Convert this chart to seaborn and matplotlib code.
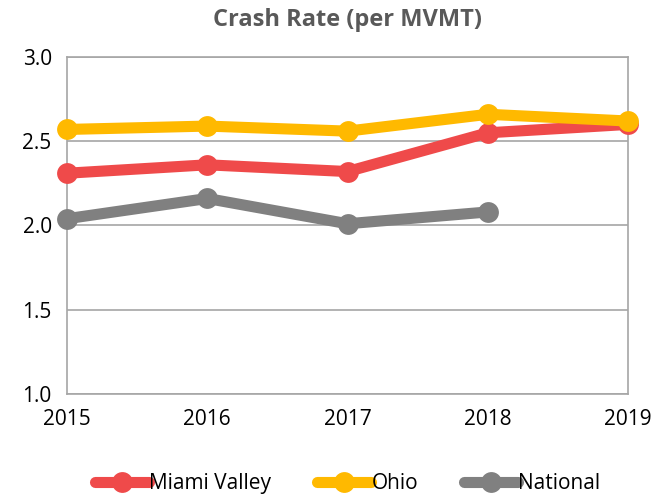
import matplotlib
matplotlib.use("Agg")
import matplotlib.pyplot as plt
import seaborn as sns
import pandas as pd

years = [2015, 2016, 2017, 2018, 2019]
miami_valley = [2.31, 2.36, 2.32, 2.55, 2.60]
ohio = [2.57, 2.59, 2.56, 2.66, 2.62]
national = [2.04, 2.16, 2.01, 2.08, None]
series_names = ["Miami Valley", "Ohio", "National"]
colors = ["#EF4A4A", "#FFB900", "#808080"]
yticks = [1.0, 1.5, 2.0, 2.5, 3.0]

rows = []
for name, vals in zip(series_names, [miami_valley, ohio, national]):
    for y, v in zip(years, vals):
        if v is not None:
            rows.append({"Year": y, "Rate": v, "Series": name})
df = pd.DataFrame(rows)

sns.set_style("white")
plt.rcParams["font.family"] = ["Open Sans", "DejaVu Sans"]

fig = plt.figure(figsize=(6.57, 4.96), dpi=100)
ax = fig.add_axes([0.102, 0.206, 0.854, 0.679])

sns.lineplot(data=df, x="Year", y="Rate", hue="Series", hue_order=series_names,
             palette=colors, marker="o", markersize=15, linewidth=8,
             markeredgewidth=0, ax=ax, legend=True, zorder=3, clip_on=False)

ax.set_xlim(2015, 2019)
ax.set_ylim(1.0, 3.0)
ax.set_xticks(years)
ax.set_xticklabels([str(y) for y in years], fontsize=15, color="black")
ax.set_yticks(yticks)
ax.set_yticklabels([f"{t:.1f}" for t in yticks], fontsize=15, color="black")
ax.set_xlabel("")
ax.set_ylabel("")
ax.grid(axis="y", color="#A6A6A6", linewidth=1.2)
for s in ["left", "right", "top", "bottom"]:
    ax.spines[s].set_color("#A6A6A6")
    ax.spines[s].set_linewidth(1.2)
ax.tick_params(axis="y", length=6, color="#A6A6A6", pad=5)
ax.tick_params(axis="x", length=6, color="#A6A6A6", direction="inout", pad=8)

ax.set_title("Crash Rate (per MVMT)", fontsize=17, fontweight="bold", color="#595959", pad=22)

handles, labels = ax.get_legend_handles_labels()
leg = ax.legend(handles, labels, loc="upper center", bbox_to_anchor=(0.5, -0.18), ncol=3,
                frameon=False, fontsize=15, handlelength=2.6, handletextpad=0.0,
                columnspacing=2.2)
for t in leg.get_texts():
    t.set_color("black")

fig.savefig("out.png", dpi=100)
